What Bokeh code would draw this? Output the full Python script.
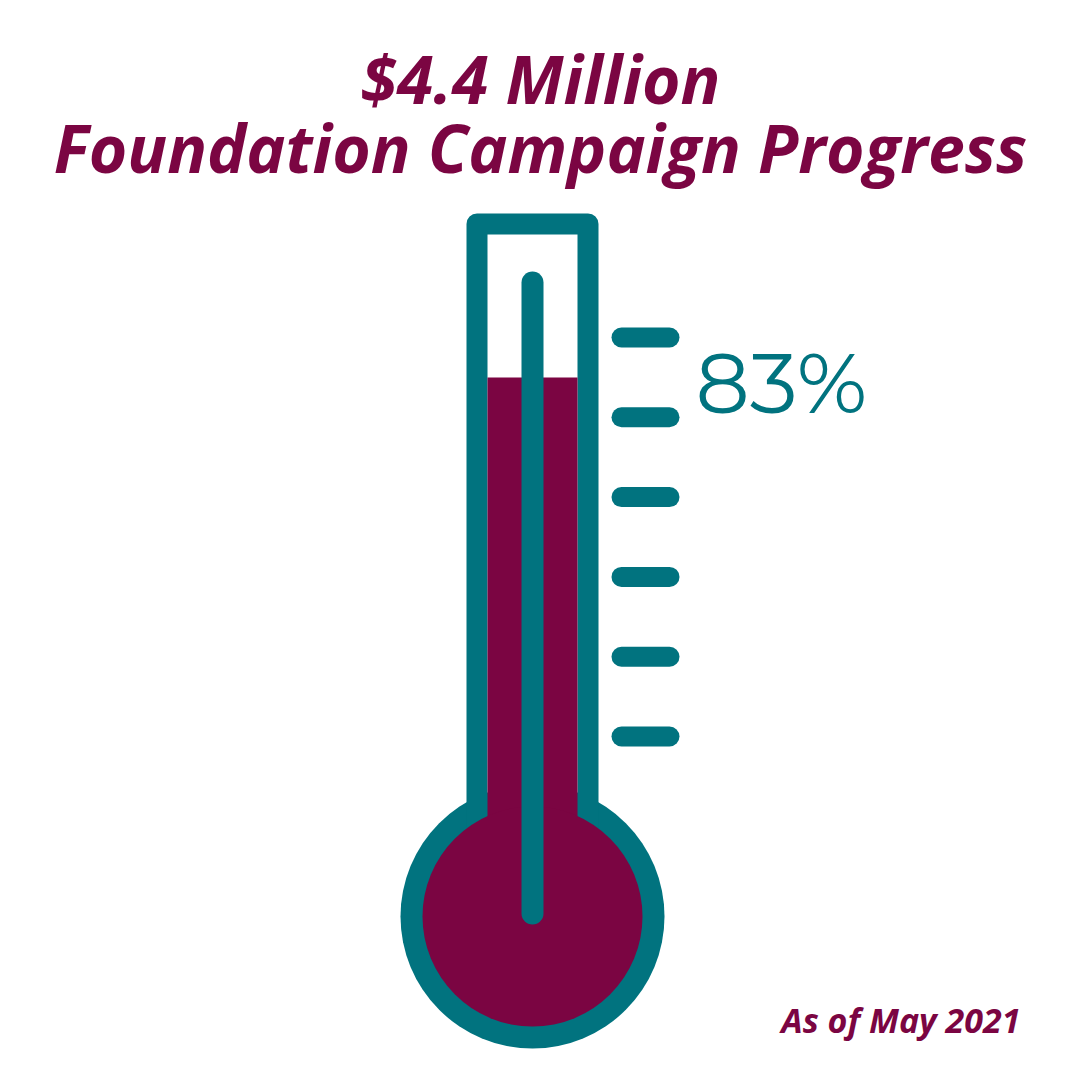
from bokeh.plotting import figure
from bokeh.models import Range1d
from bokeh.core.properties import value
from bokeh.embed import file_html
from bokeh.resources import INLINE

# ---- data ----
title_lines = ["$4.4 Million", "Foundation Campaign Progress"]
progress_pct = [83]
progress_labels = ["83%"]
scale_tick_pcts = [20, 34, 48, 62, 76, 90]
date_label = ["As of May 2021"]

TEAL = "#01737F"
MAROON = "#7B0542"

W = H = 1064
PCT0_Y = 850.0      # pixel row of 0 %
PX_PER_PCT = 5.7    # pixels per percent
BL = 0.39           # baseline correction (fraction of font size)

p = figure(width=W, height=H,
           x_range=Range1d(0, W), y_range=Range1d(H, 0),
           output_backend="svg", toolbar_location=None, min_border=0,
           x_axis_location=None, y_axis_location=None)
p.extra_y_ranges = {"pct": Range1d((PCT0_Y - H) / PX_PER_PCT, PCT0_Y / PX_PER_PCT)}
p.grid.visible = False
p.outline_line_color = None
p.background_fill_color = "white"
p.border_fill_color = "white"

# bulb outer
p.circle(x=[532], y=[916], radius=132, fill_color=TEAL, line_color=None)
# tube walls
p.line(x=[476.5, 476.5, 587.5, 587.5], y=[870, 223.5, 223.5, 870],
       line_width=21, line_color=TEAL, line_join="round")
# mercury column
p.quad(left=[487], right=[577], bottom=[0], top=progress_pct, y_range_name="pct",
       fill_color=MAROON, line_color=None)
# bulb inner
p.circle(x=[532], y=[916], radius=110, fill_color=MAROON, line_color=None)
# stem
p.line(x=[532, 532], y=[282, 913], line_width=22, line_color=TEAL, line_cap="round")
# scale ticks
p.segment(x0=[621] * len(scale_tick_pcts), x1=[669] * len(scale_tick_pcts),
          y0=scale_tick_pcts, y1=scale_tick_pcts, y_range_name="pct",
          line_width=20, line_color=TEAL, line_cap="round")

# texts
ts = 66
p.text(x=[540, 540], y=[103 - BL * ts, 172 - BL * ts], text=title_lines, text_align="center",
       text_baseline="alphabetic", text_font=value("Open Sans"),
       text_font_style="bold italic", text_font_size=f"{ts}px", text_color=MAROON)
ps = 85
p.text(x=[695], y=[415 - BL * ps], text=progress_labels, text_align="left",
       text_baseline="alphabetic", text_font=value("Montserrat"),
       text_font_style="normal", text_font_size=f"{ps}px", text_color=TEAL)
ds = 34
p.text(x=[1020], y=[1033 - BL * ds], text=date_label, text_align="right",
       text_baseline="alphabetic", text_font=value("Open Sans"),
       text_font_style="bold italic", text_font_size=f"{ds}px", text_color=MAROON)

open("out.html", "w").write(file_html(p, INLINE))
